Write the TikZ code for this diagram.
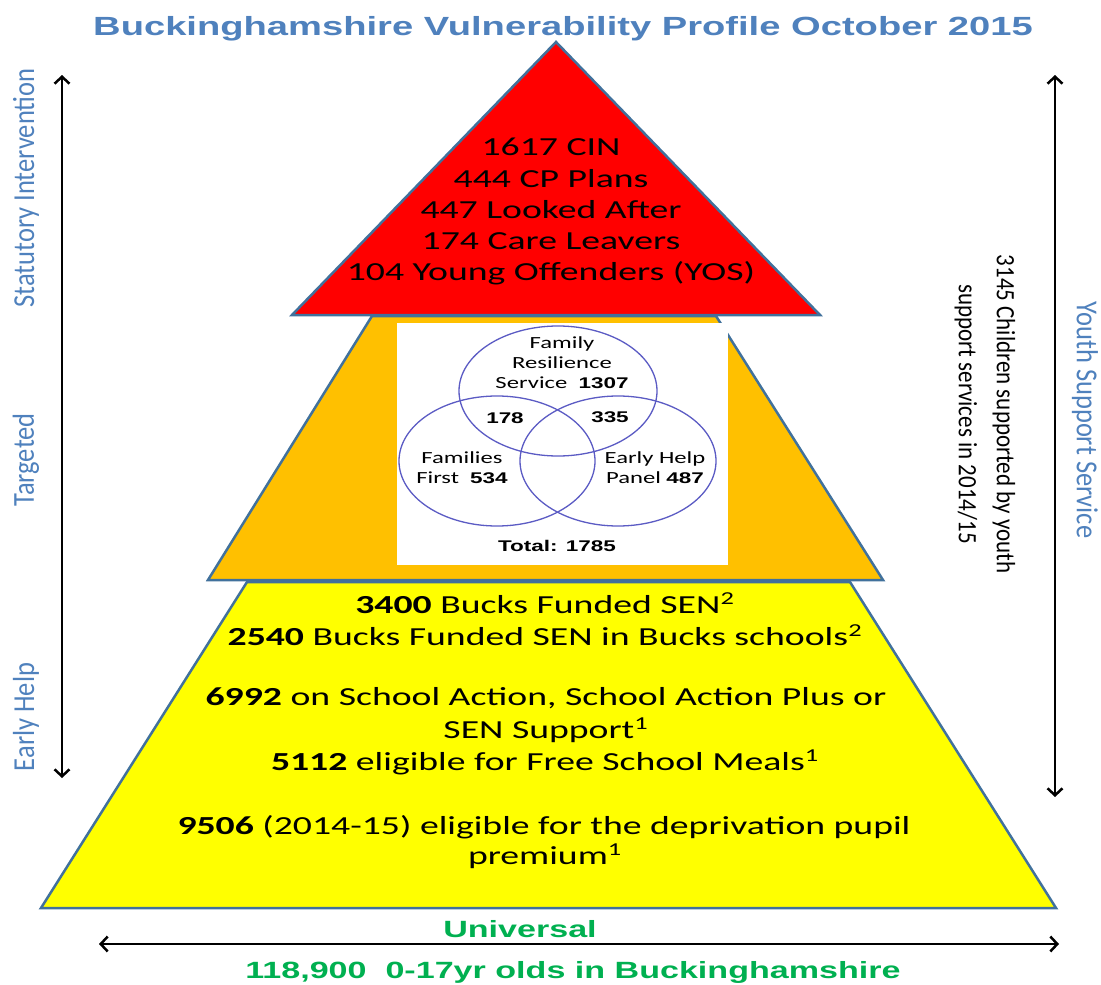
\documentclass[tikz,border=0pt]{standalone}
\usepackage{fontspec}
\setmainfont{Carlito}
\newfontfamily\arialfont{Liberation Sans}
\usetikzlibrary{arrows.meta}
\definecolor{pyrline}{HTML}{41719C}
\definecolor{slideblue}{HTML}{4F81BD}
\definecolor{slidegreen}{HTML}{00B050}
\definecolor{vennblue}{HTML}{5B5BC4}
\definecolor{tierorange}{HTML}{FFC000}
\definecolor{tieryellow}{HTML}{FFFF00}
\newcommand{\vnum}[1]{{\arialfont\bfseries\fontsize{15.5}{18}\selectfont #1}}
\tikzset{
tier/.style={
 draw=pyrline,
 line width=2.5pt,
 line join=miter
 },
span/.style={
 draw=black,
 line width=2.5pt,
 <->,
 >={Straight Barb[length=7pt,width=15pt]}
 },
wide/.style={
 xscale=1.45,
 inner sep=0pt
 },
upright/.style={
 xscale=1.15,
 inner sep=0pt
 },
redline/.style={wide, font=\fontsize{26}{31}\selectfont},
yelline/.style={wide, font=\fontsize{26}{31}\selectfont},
vennring/.style={draw=vennblue, line width=1.3pt},
vennlbl/.style={wide, align=center, font=\fontsize{17}{20}\selectfont},
sidelbl/.style={upright, text=slideblue, font=\fontsize{26.5}{31}\selectfont},
greenlbl/.style={wide, text=slidegreen, font=\arialfont\bfseries\fontsize{23.5}{28}\selectfont}
}
\begin{document}
\begin{tikzpicture}[x=1pt,y=-1pt]
\useasboundingbox (0,0) rectangle (1101,985);
% title
\node[wide, anchor=base, text=slideblue, font=\arialfont\bfseries\fontsize{26.3}{30}\selectfont] (title) at (563,35) {Buckinghamshire Vulnerability Profile October 2015};
% the three tiers, bottom up
\draw[tier, fill=tieryellow] (41,908) -- (247,582) -- (850,582) -- (1056,908) -- cycle;
\draw[tier, fill=tierorange] (208,580) -- (372,316) -- (716,316) -- (883,580) -- cycle;
\draw[tier, fill=red] (292,315) -- (556,42) -- (820,315) -- cycle;
% statutory tier
\foreach \t [count=\i] in {1617 CIN, 444 CP Plans, 447 Looked After, 174 Care Leavers, 104 Young Offenders (YOS)}
 \node[redline] (stat\i) at (551,147+31.5*\i-31.5) {\t};
% targeted tier: venn of the three services
\fill[white] (397,323) rectangle (728,565);
\draw[vennring] (558,391) ellipse [x radius=99, y radius=65];
\draw[vennring] (497,461) ellipse [x radius=98, y radius=65];
\draw[vennring] (618,461) ellipse [x radius=98, y radius=65];
\node[vennlbl] (frs) at (562,363) {Family\\Resilience\\Service\ \ \vnum{1307}};
\node[wide] (frsff) at (505,418) {\vnum{178}};
\node[wide] (frsehp) at (610,417) {\vnum{335}};
\node[vennlbl] (ff) at (462,468) {Families\\First\ \ \vnum{534}};
\node[vennlbl] (ehp) at (655,468) {Early Help\\Panel \vnum{487}};
\node[wide] (total) at (557,546) {\vnum{Total: 1785}};
% early help tier
\node[yelline] (sen) at (545,603) {\textbf{3400} Bucks Funded SEN\textsuperscript{2}};
\node[yelline] (senbucks) at (545,635) {\textbf{2540} Bucks Funded SEN in Bucks schools\textsuperscript{2}};
\node[yelline] (action) at (546,698) {\textbf{6992} on School Action, School Action Plus or};
\node[yelline] (action2) at (546,730) {SEN Support\textsuperscript{1}};
\node[yelline] (fsm) at (545,762) {\textbf{5112} eligible for Free School Meals\textsuperscript{1}};
\node[yelline] (pp) at (544,827) {\textbf{9506} (2014-15) eligible for the deprivation pupil};
\node[yelline] (pp2) at (545,856) {premium\textsuperscript{1}};
% left scale
\coordinate (ltop) at (62,75);
\coordinate (lbot) at (62,778);
\draw[span] (ltop) -- (lbot);
\node[sidelbl, rotate=90] (statlbl) at (26,188) {Statutory Intervention};
\node[sidelbl, rotate=90] (targlbl) at (26,460) {Targeted};
\node[sidelbl, rotate=90] (ehlbl) at (26,717) {Early Help};
% right scale
\coordinate (rtop) at (1055,75);
\coordinate (rbot) at (1055,797);
\draw[span] (rtop) -- (rbot);
\node[sidelbl, rotate=-90] (yss) at (1085,420) {Youth Support Service};
\node[upright, rotate=-90, align=center, font=\fontsize{23}{33}\selectfont] (ysscount) at (985,414) {3145 Children supported by youth\\support services in 2014/15};
% universal
\coordinate (uleft) at (99,944);
\coordinate (uright) at (1059,944);
\draw[span] (uleft) -- (uright);
\node[greenlbl] (univ) at (520,929) {Universal};
\node[greenlbl] (pop) at (573,972) {118,900\ \ 0-17yr olds in Buckinghamshire};
\end{tikzpicture}
\end{document}
